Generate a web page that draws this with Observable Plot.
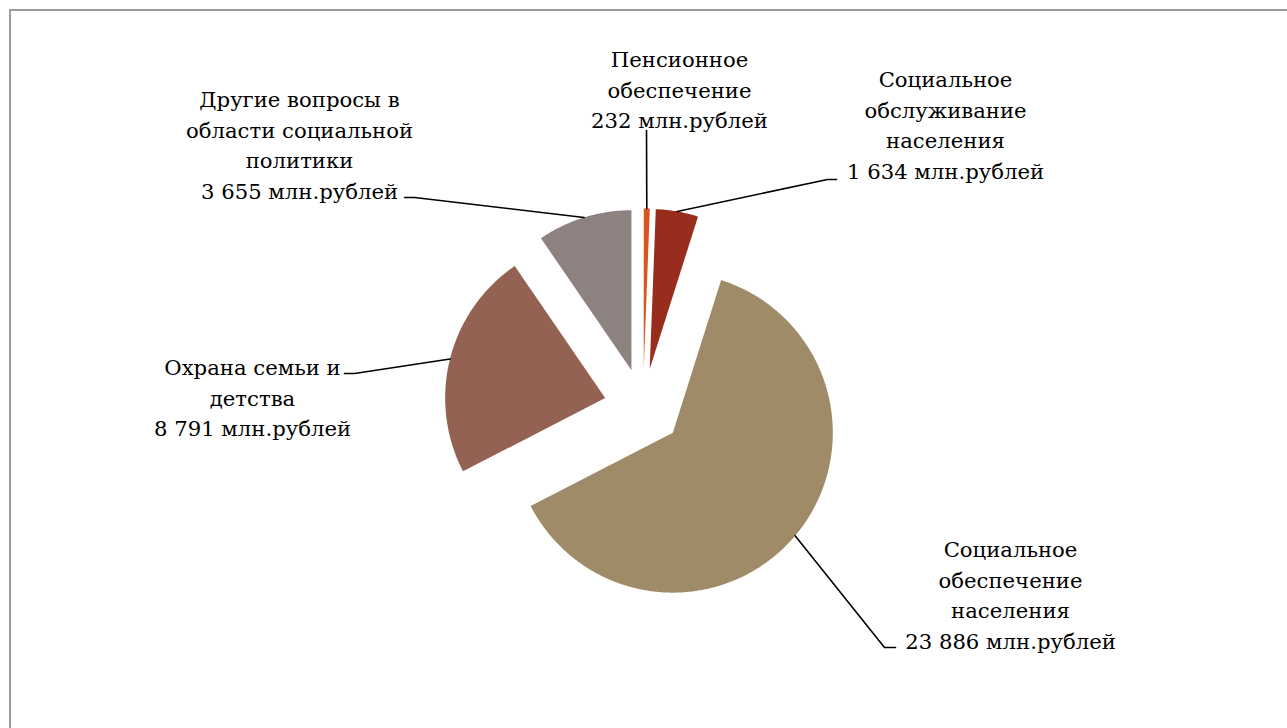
<!DOCTYPE html>
<html><head><meta charset="utf-8">
<script src="https://cdn.jsdelivr.net/npm/d3@7"></script>
<script src="https://cdn.jsdelivr.net/npm/@observablehq/plot@0.6"></script>
<style>
html,body{margin:0;padding:0;background:#fff;overflow:hidden;width:1287px;height:728px}
#frame{position:absolute;left:9px;top:9px;width:1400px;height:800px;border-left:2px solid #9a9a9a;border-top:2px solid #9a9a9a;box-sizing:border-box}
#chart{position:absolute;left:0;top:0}
</style></head><body>
<div id="frame"></div><div id="chart"></div>
<script>
// ---- data ----
const categories = [
  "Пенсионное\nобеспечение",
  "Социальное\nобслуживание\nнаселения",
  "Социальное\nобеспечение\nнаселения",
  "Охрана семьи и\nдетства",
  "Другие вопросы в\nобласти социальной\nполитики"
];
const values = [232, 1634, 23886, 8791, 3655];
const unit = "млн.рублей";

// ---- styles / layout ----
const colors = ["#d9541e", "#982d1e", "#a08b69", "#946252", "#8e8281"];
const W = 1287, H = 728;
const center = [642.5, 407], R = 160, explode = 39;
const fontSize = 21.2;
const fontFamily = "DejaVu Serif";
const labelPos = [[679, 60], [945, 80], [1010, 550], [252, 368], [299, 100]]; // center x, first line top-ish
const leaderTail = [
  [[646, 130]],
  [[827, 179], [836, 179]],
  [[884, 647], [895, 647]],
  [[354, 373], [344, 373]],
  [[414, 197], [404, 197]]
];

const fmt = v => d3.format(",")(v).replace(/,/g, " ");
const arcs = d3.pie().sort(null).value(d => d)(values);

const slices = arcs.map((a, i) => {
  const mid = (a.startAngle + a.endAngle) / 2;
  const ox = center[0] + explode * Math.sin(mid), oy = center[1] - explode * Math.cos(mid);
  const pts = [{x: ox, y: oy}];
  const n = Math.max(2, Math.ceil((a.endAngle - a.startAngle) / (Math.PI / 360)));
  for (let k = 0; k <= n; k++) {
    const t = a.startAngle + (a.endAngle - a.startAngle) * k / n;
    pts.push({x: ox + R * Math.sin(t), y: oy - R * Math.cos(t)});
  }
  const anchor = {x: ox + R * Math.sin(mid), y: oy - R * Math.cos(mid)};
  return {pts, anchor, mid};
});

const leaders = [];
slices.forEach((s, i) => {
  leaders.push({id: i, x: s.anchor.x, y: s.anchor.y});
  leaderTail[i].forEach(p => leaders.push({id: i, x: p[0], y: p[1]}));
});

const labels = categories.map((c, i) => ({
  x: labelPos[i][0],
  y: labelPos[i][1] - 0.71 * fontSize,
  text: c + "\n" + fmt(values[i]) + " " + unit
}));

const chart = Plot.plot({
  width: W, height: H, margin: 0,
  style: {background: "transparent", overflow: "visible"},
  x: {domain: [0, W], range: [0, W], axis: null},
  y: {domain: [0, H], range: [0, H], axis: null},
  marks: [
    ...slices.map((s, i) => Plot.line(s.pts, {x: "x", y: "y", fill: colors[i], stroke: "none"})),
    Plot.line(leaders, {x: "x", y: "y", z: "id", stroke: "black", strokeWidth: 1.6}),
    Plot.text(labels, {x: "x", y: "y", text: "text", textAnchor: "middle", lineAnchor: "top",
      lineHeight: 30.5 / fontSize, fontSize: fontSize, fontFamily: fontFamily, fill: "black"})
  ]
});
document.getElementById("chart").appendChild(chart);
</script>
</body></html>
